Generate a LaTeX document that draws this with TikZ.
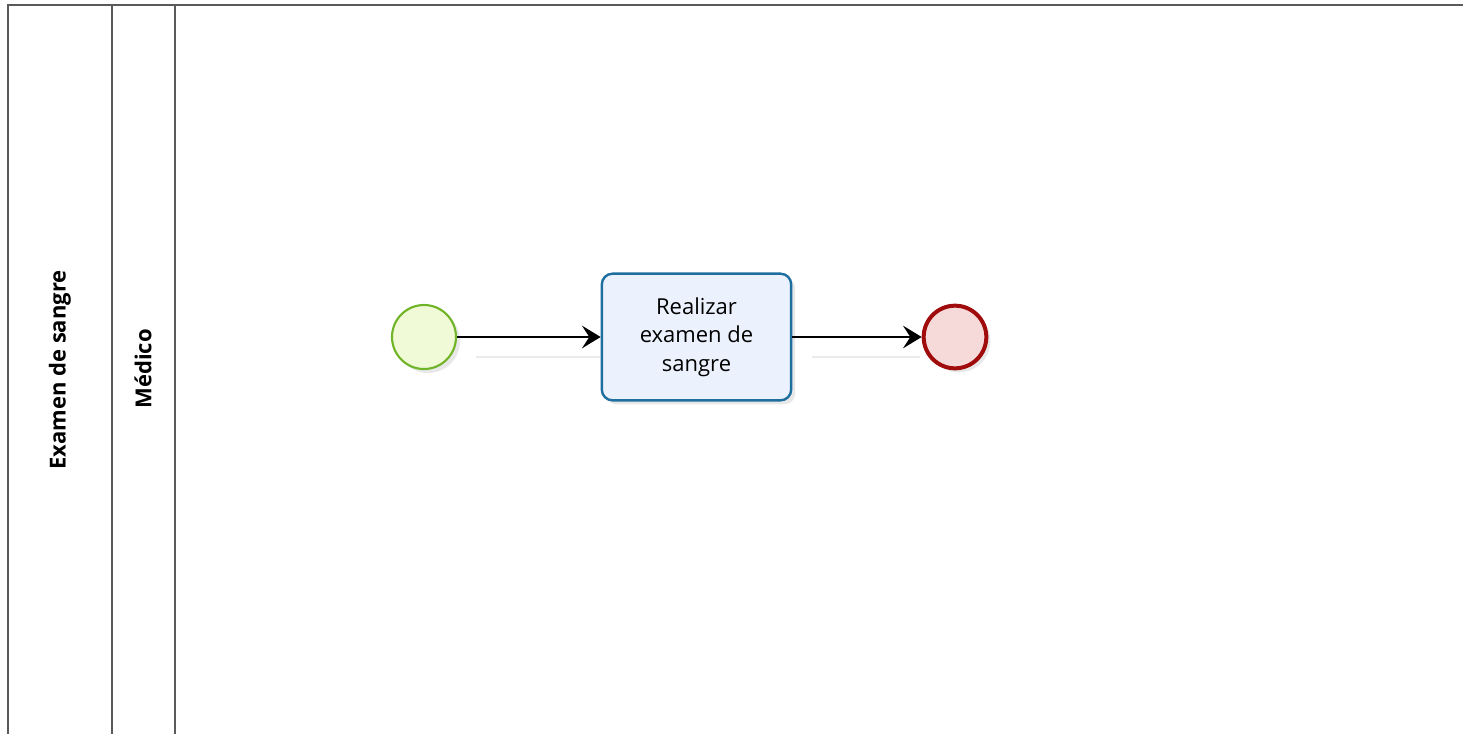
\documentclass[tikz,border=0pt]{standalone}
\usepackage{fontspec}
\setmainfont{Open Sans}
\usetikzlibrary{shadows,arrows.meta}
\definecolor{poolline}{RGB}{90,90,90}
\definecolor{startstroke}{RGB}{112,180,40}
\definecolor{startfill}{RGB}{240,250,215}
\definecolor{taskstroke}{RGB}{30,110,160}
\definecolor{taskfill}{RGB}{236,242,253}
\definecolor{endstroke}{RGB}{160,12,12}
\definecolor{endfill}{RGB}{246,218,218}
\tikzset{
  poolframe/.style={draw=poolline, line width=1.4pt},
  lanename/.style={rotate=90, font=\fontsize{16.5}{19}\selectfont\bfseries, inner sep=0pt},
  evshadow/.style={drop shadow={opacity=0.18, shadow xshift=3pt, shadow yshift=-3pt}},
  startev/.style={circle, minimum size=48pt, draw=startstroke, line width=1.6pt, fill=startfill, evshadow, inner sep=0pt},
  endev/.style={circle, minimum size=47pt, draw=endstroke, line width=3pt, fill=endfill, evshadow, inner sep=0pt},
  taskbox/.style={rectangle, rounded corners=8pt, draw=taskstroke, line width=1.8pt, fill=taskfill, minimum width=142pt, minimum height=95pt, align=center, font=\fontsize{16.5}{21.5}\selectfont, evshadow},
  flow/.style={draw=black, line width=1.3pt, -{Stealth[length=14pt,width=17pt,inset=5.5pt]}},
  flowshadow/.style={draw=black!8, line width=1.3pt}
}
\begin{document}
\begin{tikzpicture}[x=0.75pt,y=-0.75pt]
\useasboundingbox (0,0) rectangle (1463,733);
% pool and lanes
\draw[poolframe] (8,735) -- (8,5) -- (1465,5);
\draw[poolframe] (112,5) -- (112,735);
\draw[poolframe] (175,5) -- (175,735);
\node[lanename] (pool) at (60,370) {Examen de sangre};
\node[lanename] (lane) at (143,369) {Médico};
% elements
\node[startev] (start) at (424,337) {};
\node[taskbox] (task) at (696.5,337) {Realizar\\examen de\\sangre};
\node[endev] (end) at (955,337) {};
% connector shadows
\coordinate (s1a) at (476,357);
\coordinate (s1b) at (600,357);
\coordinate (s2a) at (812,357);
\coordinate (s2b) at (920,357);
\draw[flowshadow] (s1a) -- (s1b);
\draw[flowshadow] (s2a) -- (s2b);
% flows
\draw[flow] (start) -- (task);
\draw[flow] (task) -- (end);
\end{tikzpicture}
\end{document}
